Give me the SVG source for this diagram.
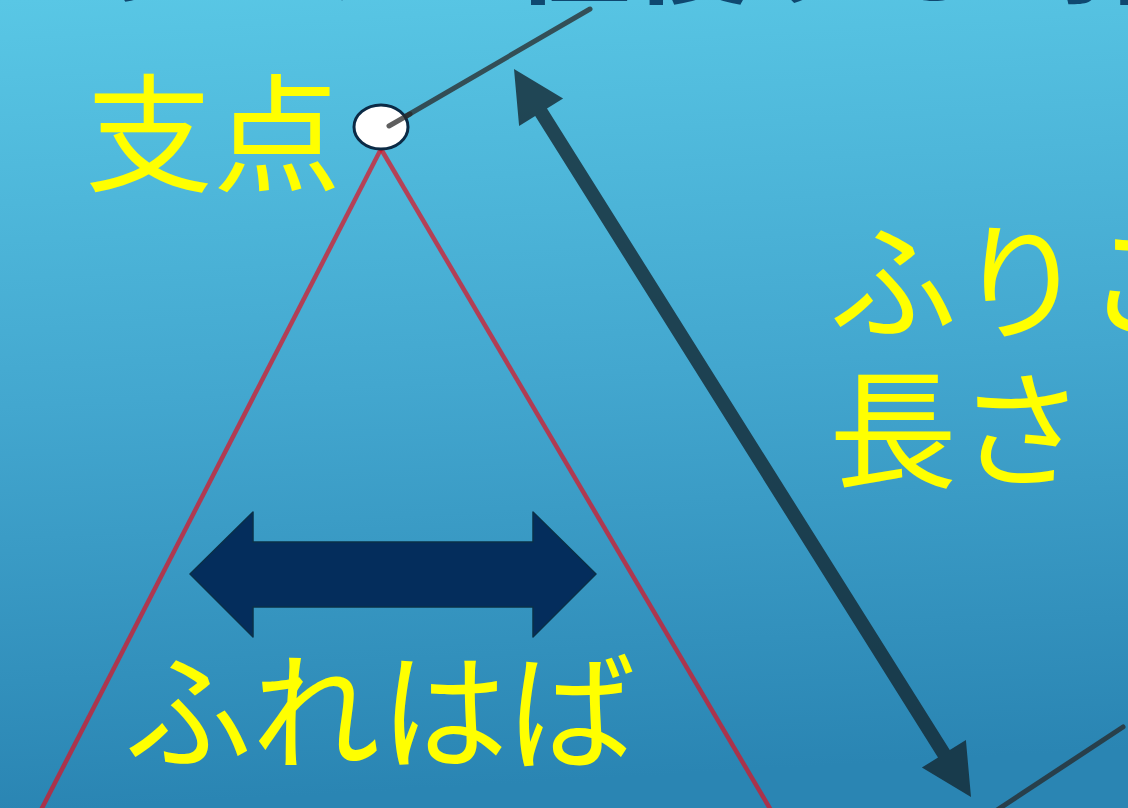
<svg xmlns="http://www.w3.org/2000/svg" width="1128" height="808" viewBox="0 0 1128 808">
  <defs>
    <linearGradient id="bg" x1="0" y1="0" x2="0.08" y2="1">
      <stop offset="0" stop-color="#59c7e5"/>
      <stop offset="0.5" stop-color="#43a7cf"/>
      <stop offset="1" stop-color="#2a85b3"/>
    </linearGradient>
  </defs>
  <style>
    .label { font-family: "Noto Sans CJK JP", "Noto Sans", sans-serif; font-size: 128px; fill: #ffff00; }
    .title { font-family: "Noto Sans CJK JP", "Noto Sans", sans-serif; font-size: 120px; font-weight: bold; fill: #0f4870; }
    .string { stroke: #e01020; stroke-opacity: 0.7; stroke-width: 4.5; fill: none; }
    .rod { stroke: #282828; stroke-opacity: 0.75; stroke-width: 5; stroke-linecap: round; fill: none; }
    .dim { fill: #142832; fill-opacity: 0.8; }
  </style>
  <rect x="0" y="0" width="1128" height="808" fill="url(#bg)"/>

  <g id="title">
    <text class="title" x="-40" y="-6">ふりこが1往復する時間</text>
  </g>

  <g id="connectors">
    <line class="string" x1="381" y1="149" x2="40" y2="812"/>
    <line class="string" x1="381" y1="149" x2="772" y2="812"/>
    <line class="rod" x1="389" y1="126" x2="590" y2="9"/>
    <line class="rod" x1="997" y1="810" x2="1123" y2="727"/>
    <polygon class="dim" points="514,69 563.1,98.4 547,108.5 949.8,750.1 965.9,740 971,797 921.9,767.6 938,757.5 535.2,115.9 519.1,126"/>
  </g>

  <g id="pivot">
    <ellipse cx="381" cy="127" rx="27" ry="22" fill="#ffffff" stroke="#0b2a45" stroke-width="3"/>
    <line class="rod" x1="389" y1="126" x2="410" y2="114"/>
  </g>

  <g id="label-pivot">
    <text class="label" x="85" y="182">支点</text>
  </g>

  <g id="amplitude-arrow">
    <polygon points="190,574 253,512 253,542 533,542 533,512 596,574 533,637 533,607 253,607 253,637" fill="#042d5c" stroke="#0a3048" stroke-width="1.5" stroke-linejoin="round"/>
  </g>

  <g id="label-amplitude">
    <text class="label" x="380" y="760" text-anchor="middle">ふれはば</text>
  </g>

  <g id="label-length">
    <text class="label"><tspan x="829" y="330">ふりこの</tspan><tspan x="829" y="478">長さ</tspan></text>
  </g>
</svg>
